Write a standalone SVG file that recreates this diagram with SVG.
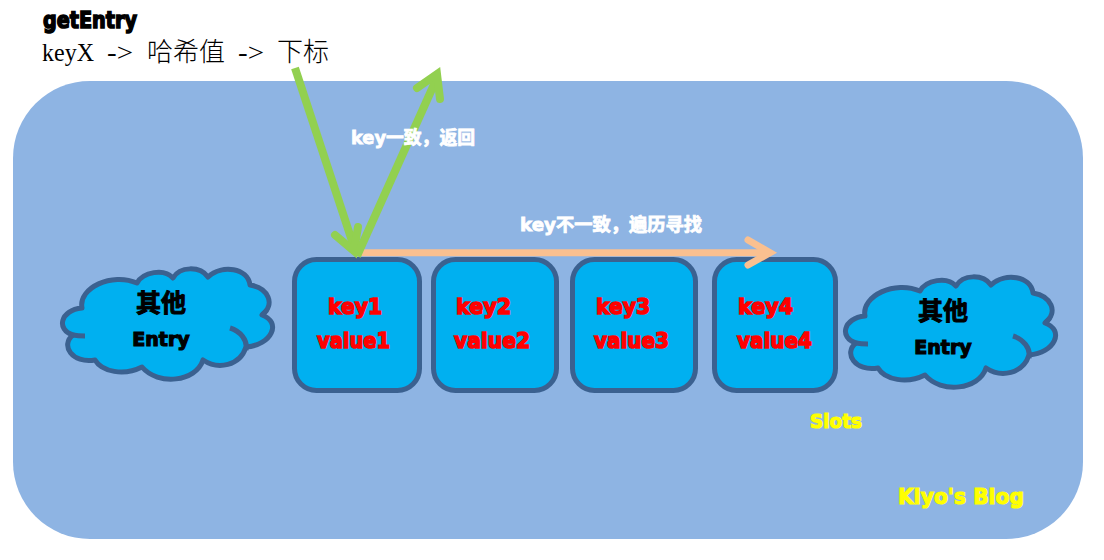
<svg xmlns="http://www.w3.org/2000/svg" width="1104" height="560" viewBox="0 0 1104 560">
<style>
text{font-family:"DejaVu Sans","Noto Sans CJK SC",sans-serif;font-weight:700}
.slot{fill:#00B0F0;stroke:#3B6190;stroke-width:5}
.cl{fill:#00B0F0;stroke:#3B6190;stroke-width:5;stroke-linejoin:round}
.cd{fill:none;stroke:#3B6190;stroke-width:5}
.r{fill:#FF0000;stroke:#FF0000;stroke-width:1.5;font-size:22px}
.b{fill:#000;stroke:#000;text-anchor:middle}
.w{fill:#fff;stroke:#fff;stroke-width:.8;font-size:18px}
.y{fill:#FFFF00;stroke:#FFFF00;stroke-width:1.2}
.g{fill:none;stroke:#92D050;stroke-width:8;stroke-linecap:round;stroke-linejoin:miter}
.p{fill:none;stroke:#FAC090;stroke-width:7;stroke-linecap:round}
.m{font-family:"Noto Sans CJK SC",sans-serif;font-weight:300;font-size:26px;fill:#000;stroke:none}
.s{font-family:"Liberation Serif",serif;font-weight:400;font-size:26px;fill:#000;stroke:none}
</style>
<defs>
<g id="cloud">
<path class="cl" d="M82 308C78 288 112 272 137 283C143 272 164 268 173 278C180 266 200 266 208 277C222 264 248 268 250 285C268 288 276 304 262 315C282 322 272 345 246 347C240 366 218 370 203 360C196 382 158 386 142 367C124 376 102 372 95 360C72 364 60 345 73 335C56 330 60 310 82 308Z"/>
<path class="cd" d="M230 328C240 331 248 340 246 350M73 335Q78 336 85 336M262 315L267 310"/>
</g>
</defs>
<rect id="panel" x="13" y="81" width="1070" height="458" rx="77" ry="77" fill="#8EB4E3"/>
<g id="title">
<text x="43" y="28" font-size="23" fill="#000" stroke="#000" stroke-width="1.6" textLength="94" lengthAdjust="spacingAndGlyphs">getEntry</text>
<text class="s" x="42" y="61" textLength="52" lengthAdjust="spacingAndGlyphs">keyX</text>
<text class="s" x="107" y="61" textLength="26" lengthAdjust="spacingAndGlyphs">-&gt;</text>
<text class="m" x="147" y="61">哈希值</text>
<text class="s" x="238" y="61" textLength="26" lengthAdjust="spacingAndGlyphs">-&gt;</text>
<text class="m" x="277" y="61">下标</text>
</g>
<g id="cloud-left">
<use href="#cloud"/>
<text class="b" x="161" y="312" font-size="25" stroke-width="1">其他</text>
<text class="b" x="161" y="346" font-size="19" stroke-width="1.2">Entry</text>
</g>
<g id="cloud-right">
<use href="#cloud" x="783" y="8"/>
<text class="b" x="943" y="320" font-size="25" stroke-width="1">其他</text>
<text class="b" x="943" y="354" font-size="19" stroke-width="1.2">Entry</text>
</g>
<g id="slot1"><rect class="slot" x="294.500" y="259.500" width="125" height="131" rx="22"/><text class="r" x="328" y="314" textLength="54" lengthAdjust="spacingAndGlyphs">key1</text><text class="r" x="317" y="348" textLength="73" lengthAdjust="spacingAndGlyphs">value1</text></g>
<g id="slot2"><rect class="slot" x="433.500" y="259.500" width="123" height="131" rx="22"/><text class="r" x="456" y="314" textLength="55" lengthAdjust="spacingAndGlyphs">key2</text><text class="r" x="454" y="348" textLength="76" lengthAdjust="spacingAndGlyphs">value2</text></g>
<g id="slot3"><rect class="slot" x="572.500" y="259.500" width="123" height="131" rx="22"/><text class="r" x="596" y="314" textLength="54" lengthAdjust="spacingAndGlyphs">key3</text><text class="r" x="594" y="348" textLength="75" lengthAdjust="spacingAndGlyphs">value3</text></g>
<g id="slot4"><rect class="slot" x="714.500" y="259.500" width="121" height="131" rx="22"/><text class="r" x="738" y="314" textLength="55" lengthAdjust="spacingAndGlyphs">key4</text><text class="r" x="737" y="348" textLength="75" lengthAdjust="spacingAndGlyphs">value4</text></g>
<g id="connectors">
<path class="p" style="stroke-linecap:butt" d="M356 252.700L768 252.700"/>
<path class="p" d="M748 240L770 252.700L748 265"/>
<path class="g" style="stroke-linecap:butt" d="M295 68L355 250"/>
<path class="g" d="M335 235L354 251L358 227"/>
<path class="g" style="stroke-linecap:butt" d="M357 256L436 80"/>
<path class="g" d="M417 88L437 74L440 99"/>
</g>
<g id="labels">
<text class="w" x="351" y="144" textLength="124" lengthAdjust="spacingAndGlyphs">key一致，返回</text>
<text class="w" x="520" y="231" textLength="182" lengthAdjust="spacingAndGlyphs">key不一致，遍历寻找</text>
<text class="y" x="810" y="428" font-size="19" textLength="52" lengthAdjust="spacingAndGlyphs">Slots</text>
<text class="y" x="898" y="504" font-size="22" textLength="126" lengthAdjust="spacingAndGlyphs">Kiyo's Blog</text>
</g>
</svg>
